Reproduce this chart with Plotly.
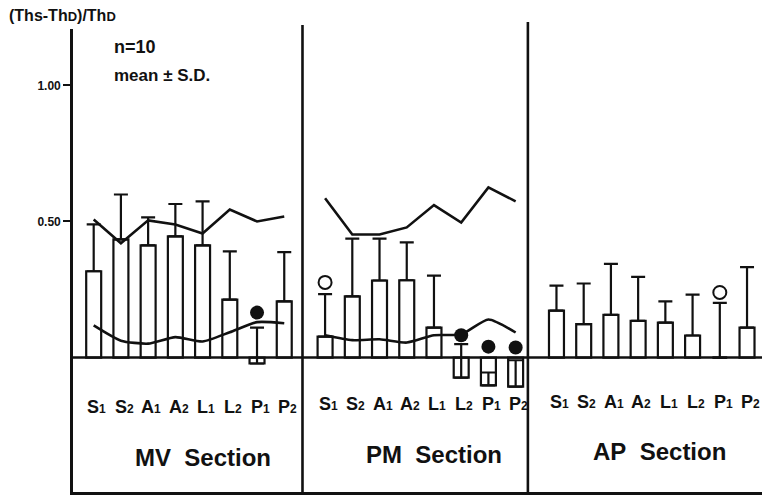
import plotly.graph_objects as go

# --- data -------------------------------------------------------------
sites = ["S1", "S2", "A1", "A2", "L1", "L2", "P1", "P2"]
sections = ["MV", "PM", "AP"]

mv_mean = [0.317, 0.434, 0.412, 0.445, 0.412, 0.213, -0.022, 0.206]
mv_sd = [0.172, 0.165, 0.103, 0.119, 0.162, 0.177, 0.132, 0.181]
pm_mean = [0.077, 0.225, 0.283, 0.284, 0.110, -0.074, -0.102, -0.107]
pm_sd = [0.156, 0.212, 0.154, 0.139, 0.191, 0.123, 0.047, 0.097]
ap_mean = [0.172, 0.123, 0.157, 0.135, 0.128, 0.081, 0.000, 0.110]
ap_sd = [0.092, 0.149, 0.187, 0.161, 0.078, 0.150, 0.201, 0.222]

mv_upper = [0.507, 0.420, 0.504, 0.489, 0.456, 0.544, 0.500, 0.518]
mv_lower = [0.118, 0.062, 0.051, 0.075, 0.059, 0.093, 0.130, 0.126]
pm_upper = [0.585, 0.452, 0.452, 0.478, 0.560, 0.496, 0.625, 0.574]
pm_lower = [0.082, 0.064, 0.067, 0.055, 0.082, 0.085, 0.140, 0.092]

# significance markers: (section, site, value)
filled_marks = [("MV", "P1", 0.165), ("PM", "L2", 0.082), ("PM", "P1", 0.040), ("PM", "P2", 0.037)]
open_marks = [("PM", "S1", 0.276), ("AP", "P1", 0.239)]

yticks = [0.5, 1.0]
yticklabels = ["0.50", "1.00"]

# --- layout geometry --------------------------------------------------
W, H = 762, 495
L, R, T, B = 73, 0, 29, 3
section_start = {"MV": 0.0, "PM": 8.5, "AP": 17.0}
dividers = [7.67, 15.95]
x_range = [-0.76, 24.55]
y_range = [-0.494, 1.207]

plot_w = W - L - R
plot_h = H - T - B


def pos(section, site):
    return section_start[section] + sites.index(site)


def px_y(p):
    # pixel row -> paper fraction
    return (H - B - p) / plot_h


def px_x(p):
    return (p - L) / plot_w


def site_label(site):
    # letter followed by a small index digit sitting on the baseline
    return "<b>%s<span style='font-size:12px'>%s</span></b>" % (site[0], site[1])


FONT = "Liberation Sans"
BLACK = "#111111"
LW = 2.6

fig = go.Figure()

means = {"MV": mv_mean, "PM": pm_mean, "AP": ap_mean}
sds = {"MV": mv_sd, "PM": pm_sd, "AP": ap_sd}
for sec in sections:
    xs = [pos(sec, s) for s in sites]
    fig.add_trace(go.Bar(
        x=xs, y=means[sec], width=0.55,
        marker=dict(color="white", line=dict(color=BLACK, width=2.2)),
        error_y=dict(type="data", symmetric=False, array=sds[sec],
                     arrayminus=[0] * len(sites), color=BLACK,
                     thickness=2.2, width=7),
        showlegend=False, hoverinfo="skip",
    ))

for sec, vals, shape in [("MV", mv_upper, "linear"), ("MV", mv_lower, "spline"),
                         ("PM", pm_upper, "linear"), ("PM", pm_lower, "spline")]:
    fig.add_trace(go.Scatter(
        x=[pos(sec, s) for s in sites], y=vals, mode="lines",
        line=dict(color=BLACK, width=LW, shape=shape, smoothing=0.6),
        showlegend=False, hoverinfo="skip",
    ))

fig.add_trace(go.Scatter(
    x=[pos(s, k) for s, k, v in filled_marks], y=[v for s, k, v in filled_marks],
    mode="markers", marker=dict(symbol="circle", size=14, color=BLACK),
    showlegend=False, hoverinfo="skip",
))
fig.add_trace(go.Scatter(
    x=[pos(s, k) for s, k, v in open_marks], y=[v for s, k, v in open_marks],
    mode="markers",
    marker=dict(symbol="circle-open", size=13, color=BLACK, line=dict(width=2)),
    showlegend=False, hoverinfo="skip",
))

# baseline and section dividers
shapes = [dict(type="line", xref="paper", yref="y", x0=0, x1=1, y0=0, y1=0,
               line=dict(color=BLACK, width=LW))]
for d, top in zip(dividers, [25, 22]):
    shapes.append(dict(type="line", xref="x", yref="paper", x0=d, x1=d,
                       y0=0, y1=px_y(top), line=dict(color=BLACK, width=LW)))

annotations = []
label_rows = {"MV": 407, "PM": 404, "AP": 401.5}
title_rows = {"MV": 457, "PM": 454, "AP": 451}
title_x = {"MV": 4.0, "PM": 12.5, "AP": 20.8}
for sec in sections:
    for s in sites:
        annotations.append(dict(
            x=pos(sec, s) + 0.12, y=px_y(label_rows[sec]), xref="x", yref="paper",
            text=site_label(s), showarrow=False, xanchor="center", yanchor="middle",
            font=dict(family=FONT, size=18, color=BLACK),
        ))
    annotations.append(dict(
        x=title_x[sec], y=px_y(title_rows[sec]), xref="x", yref="paper",
        text="<b>" + sec + "\u00a0\u00a0Section</b>", showarrow=False,
        xanchor="center", yanchor="middle",
        font=dict(family=FONT, size=24, color=BLACK),
    ))

annotations.append(dict(
    x=px_x(7), y=px_y(15), xref="paper", yref="paper",
    text="<b>(Ths-Th<span style='font-size:13px'>D</span>)/Th<span style='font-size:13px'>D</span></b>",
    showarrow=False, xanchor="left", yanchor="middle",
    font=dict(family=FONT, size=16, color=BLACK),
))
annotations.append(dict(
    x=px_x(112), y=px_y(47), xref="paper", yref="paper", text="<b>n=10</b>",
    showarrow=False, xanchor="left", yanchor="middle",
    font=dict(family=FONT, size=18, color=BLACK),
))
annotations.append(dict(
    x=px_x(112), y=px_y(75), xref="paper", yref="paper", text="<b>mean ± S.D.</b>",
    showarrow=False, xanchor="left", yanchor="middle",
    font=dict(family=FONT, size=17, color=BLACK),
))

fig.update_layout(
    width=W, height=H,
    margin=dict(l=L, r=R, t=T, b=B, pad=0),
    paper_bgcolor="white", plot_bgcolor="white",
    barmode="overlay",
    shapes=shapes, annotations=annotations,
    xaxis=dict(range=x_range, showgrid=False, zeroline=False, showticklabels=False,
               ticks="", showline=True, linecolor=BLACK, linewidth=LW),
    yaxis=dict(range=y_range, showgrid=False, zeroline=False,
               tickvals=yticks, ticktext=["<b>%s</b>" % t for t in yticklabels],
               ticks="outside", ticklen=7, tickwidth=2, tickcolor=BLACK,
               tickfont=dict(family=FONT, size=12, color=BLACK),
               showline=True, linecolor=BLACK, linewidth=LW),
    font=dict(family=FONT, color=BLACK),
)

fig.write_html("out.html")
